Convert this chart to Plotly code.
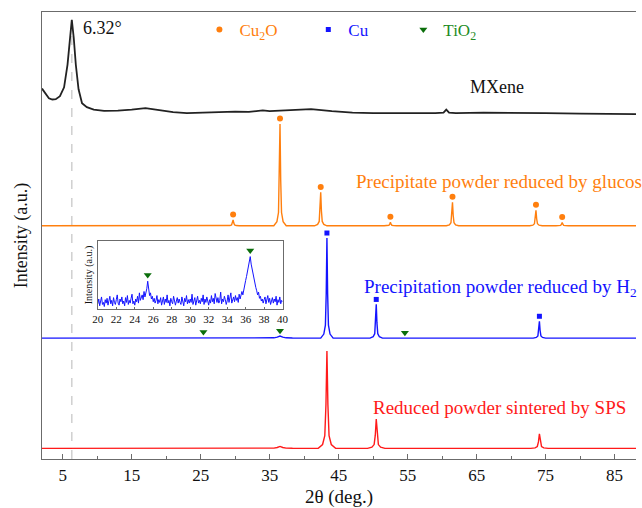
import plotly.graph_objects as go

# ---------------- data ----------------
# MXene pattern (relative intensity above its own baseline)
mx_two_theta = [2.0, 2.5, 3.0, 3.5, 4.0, 4.6, 5.2, 5.7, 6.0, 6.32, 6.6, 6.9, 7.3, 7.8, 8.5, 9.5,
                11, 13, 15, 17, 19, 21, 23, 25, 27, 30, 32, 33.5, 34, 35, 38, 41, 44, 47, 50,
                55, 59, 60.2, 60.6, 61.0, 62, 66, 70, 75, 80, 85, 88.1]
mx_intensity = [25.7, 21, 16, 14.7, 15, 18, 27, 50, 75, 95, 77, 50, 25, 11, 7, 4.5,
                3.3, 3.5, 4.5, 6, 4, 2, 1, 1.5, 2.5, 2.5, 2.2, 3.2, 3.8, 3, 4, 5, 3, 1.5, 1,
                0.7, 1, 1.5, 4.5, 1.5, 1, 1.5, 1.5, 1, 0.5, 0, 0]
mx_peak = 6.32

# Precipitate powder reduced by glucose (Cu2O reflections)
glu_pos = [29.7, 36.5, 42.4, 52.5, 61.5, 73.6, 77.4]
glu_int = [6, 102.7, 33.7, 3.7, 23.7, 15.7, 3.4]

# Precipitation powder reduced by H2 (Cu reflections + weak TiO2)
h2_pos = [25.4, 36.5, 43.3, 50.45, 74.1]
h2_int = [0.7, 2.0, 101, 34, 17]
h2_cu_pos = [43.3, 50.45, 74.1]
h2_cu_int = [101, 34, 17]
h2_tio2_pos = [25.4, 36.5, 54.6]
h2_tio2_int = [0.7, 2.0, 0.0]

# Reduced powder sintered by SPS
sps_pos = [36.5, 43.3, 50.45, 74.1]
sps_int = [2.0, 98.3, 29.6, 14.6]

# stacking offsets (a.u.)
off_mx, off_glu, off_h2, off_sps = 348, 235.3, 122, 10.7

# measured peak profile (offset in deg, fraction of peak height)
profile_dx = [-0.9, -0.45, -0.22, -0.1, 0.0, 0.1, 0.22, 0.45, 0.9]
profile_frac = [0.0, 0.04, 0.13, 0.45, 1.0, 0.45, 0.13, 0.04, 0.0]

# inset: H2-reduced powder, 20-40 deg, step 0.1
inset_theta = [20 + i / 10 for i in range(201)]
inset_int = [8, 15, 5, 12, 18, 7, 10, 4, 14, 9,
             16, 6, 11, 19, 8, 13, 5, 17, 10, 7,
             14, 21, 9, 6, 15, 11, 18, 8, 12, 5,
             17, 10, 20, 7, 13, 9, 16, 22, 8, 12,
             6, 15, 11, 19, 9, 24, 13, 17, 21, 14,
             26, 18, 23, 30, 41, 28, 20, 24, 15, 19,
             11, 16, 9, 13, 20, 8, 14, 10, 17, 6,
             12, 18, 7, 15, 10, 21, 9, 13, 5, 16,
             11, 8, 19, 14, 6, 12, 17, 9, 15, 10,
             7, 18, 13, 5, 16, 11, 20, 8, 14, 9,
             15, 10, 22, 7, 12, 17, 6, 14, 19, 9,
             13, 8, 16, 11, 21, 7, 15, 10, 18, 12,
             6, 14, 9, 20, 11, 16, 8, 23, 12, 10,
             17, 9, 13, 25, 8, 15, 11, 19, 14, 7,
             12, 21, 10, 16, 24, 9, 14, 18, 11, 20,
             13, 17, 10, 22, 15, 19, 26, 21, 30, 36,
             42, 48, 55, 63, 70, 77, 66, 58, 52, 45,
             38, 32, 27, 21, 25, 16, 19, 12, 15, 9,
             14, 18, 8, 13, 20, 10, 16, 7, 12, 17,
             9, 15, 11, 19, 6, 14, 10, 18, 8, 13,
             11]
inset_tio2_pos = [25.4, 36.5]
inset_tio2_int = [41, 77]

X_MIN, X_MAX = 2.0, 88.1

ORANGE = "#ff7f0e"
BLUE = "#1414ff"
RED = "#ff1a1a"
GREEN_TXT = "#238b23"
GREEN_MK = "#0b6e0b"
SERIF = "Liberation Serif, Times New Roman, serif"


def build(pos, inten, widths, offset):
    pts = {X_MIN: 0.0, X_MAX: 0.0}
    for p, h, w in zip(pos, inten, widths):
        for dx, f in zip(profile_dx, profile_frac):
            x = round(p + dx * w, 4)
            pts[x] = max(pts.get(x, 0.0), h * f)
    xs = sorted(pts)
    return xs, [pts[x] + offset for x in xs]


fig = go.Figure()

# dashed guide at MXene (002) peak
fig.add_shape(type="line", x0=mx_peak, x1=mx_peak, y0=0, y1=off_mx + max(mx_intensity),
              xref="x", yref="y", line=dict(color="#cfcfcf", width=1.5, dash="dash"), layer="below")

# MXene
fig.add_trace(go.Scatter(x=mx_two_theta, y=[v + off_mx for v in mx_intensity], mode="lines",
                         line=dict(color="#222222", width=1.8), showlegend=False))
# glucose
gx, gy = build(glu_pos, glu_int, [1.0] * len(glu_pos), off_glu)
fig.add_trace(go.Scatter(x=gx, y=gy, mode="lines", line=dict(color=ORANGE, width=1.4), showlegend=False))
# H2
hx, hy = build(h2_pos, h2_int, [3.0, 4.0, 1.0, 1.0, 1.0], off_h2)
fig.add_trace(go.Scatter(x=hx, y=hy, mode="lines", line=dict(color=BLUE, width=1.4), showlegend=False))
# SPS
sx, sy = build(sps_pos, sps_int, [4.0, 1.4, 1.4, 1.4], off_sps)
fig.add_trace(go.Scatter(x=sx, y=sy, mode="lines", line=dict(color=RED, width=1.4), showlegend=False))

# phase markers
fig.add_trace(go.Scatter(x=glu_pos, y=[v + off_glu + 5.5 for v in glu_int], mode="markers",
                         marker=dict(symbol="circle", size=6, color=ORANGE),
                         name="Cu<sub>2</sub>O", legend="legend"))
fig.add_trace(go.Scatter(x=h2_cu_pos, y=[v + off_h2 + 5 for v in h2_cu_int], mode="markers",
                         marker=dict(symbol="square", size=5, color=BLUE),
                         name="Cu", legend="legend2"))
fig.add_trace(go.Scatter(x=h2_tio2_pos, y=[v + off_h2 + 5.5 for v in h2_tio2_int], mode="markers",
                         marker=dict(symbol="triangle-down", size=7, color=GREEN_MK),
                         name="TiO<sub>2</sub>", legend="legend3"))

# inset
fig.add_trace(go.Scatter(x=inset_theta, y=inset_int, mode="lines", xaxis="x2", yaxis="y2",
                         line=dict(color=BLUE, width=1), showlegend=False))
fig.add_trace(go.Scatter(x=inset_tio2_pos, y=[v + 9 for v in inset_tio2_int], mode="markers",
                         xaxis="x2", yaxis="y2", showlegend=False,
                         marker=dict(symbol="triangle-down", size=7, color=GREEN_MK)))

AX = "#6b6b6b"
fig.update_layout(
    width=642, height=508,
    margin=dict(l=42, r=0, t=12, b=45),
    paper_bgcolor="white", plot_bgcolor="white",
    font=dict(family=SERIF, color="#111111"),
    xaxis=dict(range=[X_MIN, X_MAX], showline=True, linecolor=AX, linewidth=1.3, mirror=True,
               showgrid=False, zeroline=False, ticks="inside", ticklen=5, tickcolor=AX,
               tick0=5, dtick=10, tickfont=dict(size=17, family=SERIF, color="#111"),
               minor=dict(ticks="inside", ticklen=3, tick0=0, dtick=10, tickcolor=AX),
               title=dict(text="2θ (deg.)", font=dict(size=19, family=SERIF, color="#111"), standoff=10)),
    yaxis=dict(range=[0, 451], showline=True, linecolor=AX, linewidth=1.3, showgrid=False,
               zeroline=False, showticklabels=False, ticks="",
               title=dict(text="Intensity (a.u.)", font=dict(size=18, family=SERIF, color="#111"), standoff=8)),
    xaxis2=dict(domain=[0.094, 0.405], anchor="y2", range=[20, 40], showline=True, mirror=True,
                linecolor=AX, linewidth=1, showgrid=False, zeroline=False, ticks="inside", ticklen=2,
                tickcolor=AX, tickvals=list(range(20, 41, 2)), tickfont=dict(size=11, family=SERIF, color="#111")),
    yaxis2=dict(domain=[0.335, 0.488], anchor="x2", range=[0, 100], showline=True, mirror=True,
                linecolor=AX, linewidth=1, showgrid=False, zeroline=False, showticklabels=False,
                title=dict(text="Intensity (a.u.)", font=dict(size=10, family=SERIF, color="#111"), standoff=2)),
    legend=dict(x=(226 - 25 - 42) / 600, y=0.96, xanchor="left", yanchor="middle", bgcolor="rgba(0,0,0,0)",
                font=dict(size=17, family=SERIF, color=ORANGE)),
    legend2=dict(x=(336 - 25 - 42) / 600, y=0.96, xanchor="left", yanchor="middle", bgcolor="rgba(0,0,0,0)",
                 font=dict(size=17, family=SERIF, color=BLUE)),
    legend3=dict(x=(432 - 25 - 42) / 600, y=0.96, xanchor="left", yanchor="middle", bgcolor="rgba(0,0,0,0)",
                 font=dict(size=17, family=SERIF, color=GREEN_TXT)),
)

ann = [
    ("6.32°", 81, 27.7, "#111", 18),
    ("MXene", 472, 88, "#111", 18),
    ("Precipitate powder reduced by glucose", 356.7, 182.7, ORANGE, 19),
    ("Precipitation powder reduced by H<sub>2</sub>", 365, 290, BLUE, 19),
    ("Reduced powder sintered by SPS", 374, 411, RED, 19),
]
for txt, px, py, col, sz in ann:
    fig.add_annotation(text=txt, x=(px - 42) / 600, y=(463 - py) / 451, xref="paper", yref="paper",
                       xanchor="left", yanchor="middle", showarrow=False,
                       font=dict(size=sz, family=SERIF, color=col))

fig.write_html(
    "out.html",
    config={"displayModeBar": False, "responsive": False},
    post_script=(
        "document.documentElement.style.margin='0';"
        "document.documentElement.style.padding='0';"
        "document.documentElement.style.overflow='hidden';"
        "document.body.style.margin='0';"
        "document.body.style.padding='0';"
        "document.body.style.overflow='hidden';"
        "window.scrollTo(0,0);"
    ),
)
